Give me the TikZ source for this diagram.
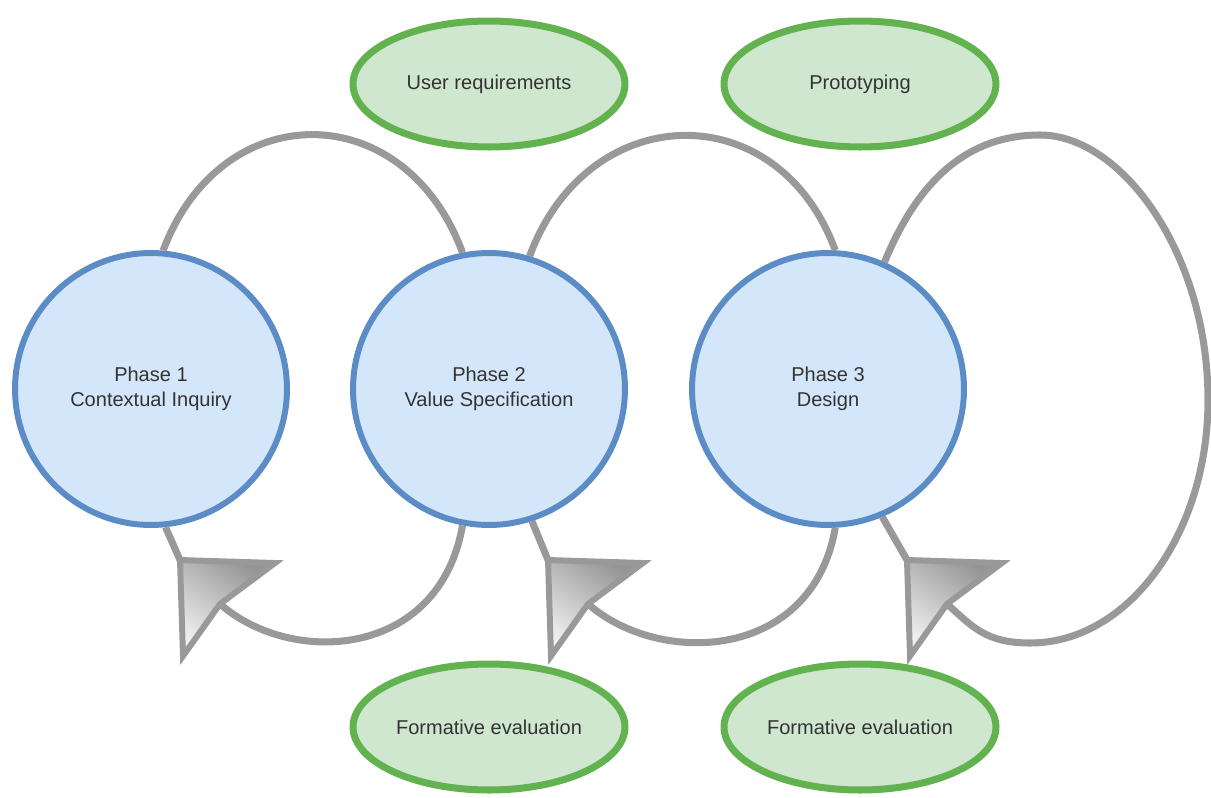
\documentclass[tikz,border=0pt]{standalone}
\usepackage{fontspec}
\setmainfont{Liberation Sans}
\usetikzlibrary{calc}
\usetikzlibrary{shapes.geometric}
\definecolor{phaseline}{HTML}{5B8CC6}
\definecolor{phasefill}{HTML}{D4E6FA}
\definecolor{goalline}{HTML}{62B350}
\definecolor{goalfill}{HTML}{CFE6CF}
\definecolor{loopgray}{HTML}{999999}
\definecolor{txt}{HTML}{333333}

\begin{document}
\begin{tikzpicture}[x=0.02cm, y=-0.02cm,
    phase/.style={circle, draw=phaseline, fill=phasefill, line width=3.4pt, minimum size=5.44cm, inner sep=0pt, align=center, text=txt, font=\fontsize{11.4}{14.2}\selectfont},
    goal/.style={ellipse, draw=goalline, fill=goalfill, line width=4pt, minimum width=5.44cm, minimum height=2.52cm, inner sep=0pt, text=txt, font=\fontsize{11.4}{14.2}\selectfont},
    cycleline/.style={draw=loopgray, line width=4pt},
    bighead/.style={draw=loopgray, line width=3.4pt, top color=black!42, bottom color=black!6, shading angle=-35}]
      \useasboundingbox (0,0) rectangle (1211,798);
      % phases
      \foreach \i/\x/\txt in {1/151/{Phase 1\\Contextual Inquiry}, 2/489/{Phase 2\\Value Specification}, 3/828/{Phase 3\\Design}} {
        \node[phase] (p\i) at (\x,389) {\txt};
      }
      % outcomes
      \node[goal] (ur) at (489,84) {User requirements};
      \node[goal] (pt) at (860,84) {Prototyping};
      \node[goal] (fe1) at (489,727) {Formative evaluation};
      \node[goal] (fe2) at (860,727) {Formative evaluation};
      % arrow tips and notches
      \foreach \i/\x in {1/180, 2/548, 3/907} {
        \coordinate (t\i) at (\x,560);
        \coordinate (n\i) at ($(t\i)+(40,44)$);
      }
      \coordinate (top3) at (1040,135);
      \coordinate (right3) at (1208,400);
      \coordinate (bot3) at (1030,643);
      % loops
      \draw[cycleline] (p1.85) .. controls +(58,-155) and +(-58,-157) .. (p2.101);
      \draw[cycleline] (p2.73) .. controls +(58,-157) and +(-58,-157) .. (p3.87);
      \draw[cycleline] (p3.66) .. controls +(35,-85) and +(-70,0) .. (top3)
        .. controls +(82,0) and +(0,-146) .. (right3)
        .. controls +(0,134) and +(98,0) .. (bot3)
        .. controls +(-45,0) and +(25,22) .. (n3) -- (t3) -- (p3.293);
      \draw[cycleline] (p2.259) .. controls +(-23,133) and +(72,63) .. (n1) -- (t1) -- (p1.276);
      \draw[cycleline] (p3.273) .. controls +(-23,133) and +(72,63) .. (n2) -- (t2) -- (p2.288);
      % heads
      \foreach \i in {1,2,3} {
        \draw[bighead] (t\i) -- ($(t\i)+(95,3)$) -- (n\i) -- ($(t\i)+(3,96)$) -- cycle;
      }
    \end{tikzpicture}
\end{document}
